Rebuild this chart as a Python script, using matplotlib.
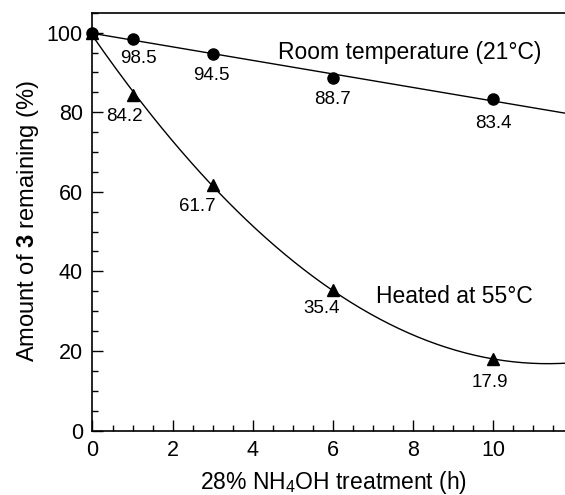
import numpy as np
import matplotlib
matplotlib.use("Agg")
import matplotlib.pyplot as plt
from matplotlib.ticker import MultipleLocator

plt.rcParams['font.family'] = ['Liberation Sans', 'DejaVu Sans']
plt.rcParams['mathtext.fontset'] = 'custom'
plt.rcParams['mathtext.rm'] = 'Liberation Sans'
plt.rcParams['mathtext.bf'] = 'Liberation Sans:bold'

# data
hours = [0, 1, 3, 6, 10]
room_temp = [100, 98.5, 94.5, 88.7, 83.4]
heated = [100, 84.2, 61.7, 35.4, 17.9]
room_labels = ["98.5", "94.5", "88.7", "83.4"]
heated_labels = ["84.2", "61.7", "35.4", "17.9"]

fig = plt.figure(figsize=(5.65, 4.95), dpi=100)
ax = fig.add_axes([0.1637, 0.1303, 0.8363, 0.844])

xmax = 11.8
xx = np.linspace(0, xmax, 200)

# fitted lines
p_room = np.polyfit(hours, room_temp, 1)
p_heat = np.polyfit(hours, heated, 2)
ax.plot(xx, np.polyval(p_room, xx), color='black', lw=1.0)
ax.plot(xx, np.polyval(p_heat, xx), color='black', lw=1.0)

ax.plot(hours, room_temp, 'o', color='black', ms=8, clip_on=False, zorder=3)
ax.plot(hours, heated, '^', color='black', ms=8.5, clip_on=False, zorder=3)

# value labels (offsets in pixels)
room_off = [(6, -20), (-1, -21), (0, -22), (0, -25)]
heat_off = [(-8, -21), (-15, -21), (-11, -19), (-3, -23)]
for x, y, s, off in zip(hours[1:], room_temp[1:], room_labels, room_off):
    ax.annotate(s, (x, y), xytext=off, textcoords='offset pixels',
                ha='center', va='center', fontsize=13.5)
for x, y, s, off in zip(hours[1:], heated[1:], heated_labels, heat_off):
    ax.annotate(s, (x, y), xytext=off, textcoords='offset pixels',
                ha='center', va='center', fontsize=13.5)

ax.text(4.64, 94.9, "Room temperature (21°C)", ha='left', va='center', fontsize=16.5)
ax.text(7.09, 33.7, "Heated at 55°C", ha='left', va='center', fontsize=16.5)

ax.set_xlim(0, xmax)
ax.set_ylim(0, 105)
ax.xaxis.set_major_locator(MultipleLocator(2))
ax.xaxis.set_minor_locator(MultipleLocator(0.5))
ax.yaxis.set_major_locator(MultipleLocator(20))
ax.yaxis.set_minor_locator(MultipleLocator(5))
ax.tick_params(which='both', direction='in', labelsize=15.5, pad=7)
ax.tick_params(which='major', length=8, width=1)
ax.tick_params(which='minor', length=4, width=1)
ax.spines['right'].set_visible(False)
for s in ['left', 'bottom', 'top']:
    ax.spines[s].set_linewidth(1.2)

ax.set_xlabel("28% NH$_4$OH treatment (h)", fontsize=16.5)
ax.set_ylabel(r"Amount of $\mathbf{3}$ remaining (%)", fontsize=17)
ax.xaxis.set_label_coords(0.51, -0.093)
ax.yaxis.set_label_coords(-0.110, 0.5)

fig.savefig("out.png", dpi=100)
